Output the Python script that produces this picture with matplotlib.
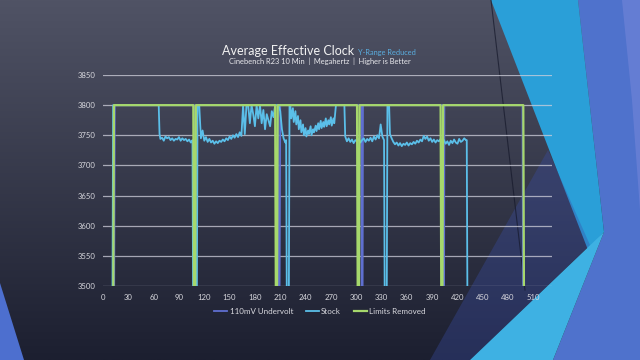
import numpy as np
import matplotlib
matplotlib.use("Agg")
import matplotlib.pyplot as plt
from matplotlib.patches import Polygon

plt.rcParams['font.family'] = ['Lato', 'DejaVu Sans']

LOW = 3400  # values below the visible range

# ---- data (seconds, MHz) ----
uv_x = [0, 13, 14, 108, 109, 110, 111, 207, 208, 209, 210, 306, 306.5, 307.5, 308, 402.5, 403, 404, 404.5, 497, 498, 532]
uv_y = [LOW, LOW, 3800, 3800, LOW, LOW, 3800, 3800, LOW, LOW, 3800, 3800, LOW, LOW, 3800, 3800, LOW, LOW, 3800, 3800, LOW, LOW]

stock_x = [0, 11, 12, 66,
           67, 68, 70, 72, 74, 76, 78, 80, 82, 84, 86, 88, 90, 92, 94, 96, 98, 100, 102, 104, 106,
           107, 111, 112, 114, 116, 118, 120, 122, 124, 126, 128, 130, 132, 134, 136, 138, 140, 142, 144,
           146, 148, 150, 152, 154, 156, 158, 160, 162, 164,
           166, 168, 170, 172, 174, 176, 178, 180, 182, 184, 186, 188, 190, 192, 194, 196, 198, 200, 202, 204,
           206, 208, 210, 212, 214, 216, 217, 218, 220, 221,
           222, 223, 225, 226, 228, 229, 231, 232, 234, 235, 237, 238, 240, 241, 243, 244, 246, 247, 249, 250,
           252, 253, 255, 256, 258, 259, 261, 262, 264, 265, 267, 268, 270, 271, 273, 274, 276, 277, 286,
           287, 289, 291, 293, 295, 297, 299, 301, 303, 305, 307, 309, 311, 313, 315, 317, 319, 321, 323, 325,
           327, 329, 331, 333, 334, 336, 337, 339,
           340, 342, 344, 346, 348, 350, 352, 354, 356, 358, 360, 362, 364, 366, 368, 370, 372, 374, 376, 378,
           380, 382, 384, 386, 388, 390, 392, 394, 396, 398, 400,
           402, 404, 406, 408, 410, 412, 414, 416, 418, 420, 422, 424, 426, 428, 430, 431, 432, 433]
stock_y = [LOW, LOW, 3800, 3800,
           3752, 3744, 3746, 3741, 3748, 3745, 3747, 3742, 3745, 3741, 3744, 3743, 3747, 3741, 3745, 3742, 3744, 3740, 3743, 3738, 3742,
           LOW, LOW, 3800, 3800, 3745, 3758, 3741, 3747, 3739, 3744, 3738, 3741, 3736, 3740, 3737, 3741, 3739, 3743, 3740,
           3745, 3742, 3748, 3744, 3750, 3746, 3752, 3747, 3755, 3749,
           3800, 3752, 3800, 3800, 3770, 3800, 3785, 3765, 3800, 3778, 3800, 3770, 3792, 3760, 3785, 3775, 3765, 3790, 3780, 3800,
           3800, 3800, 3790, 3760, 3745, 3738, 3742, LOW, LOW, 3800,
           3800, 3778, 3795, 3772, 3790, 3768, 3782, 3760, 3775, 3755, 3768, 3750, 3762, 3748, 3758, 3752, 3765, 3750, 3760, 3755,
           3766, 3757, 3770, 3760, 3774, 3762, 3772, 3764, 3778, 3765, 3775, 3768, 3780, 3766, 3778, 3770, 3800, 3800, 3800,
           3748, 3740, 3745, 3739, 3743, 3737, 3742, 3740, 3744, 3738, 3742, 3745, 3739, 3744, 3741, 3746, 3740, 3748, 3743, 3750,
           3745, 3768, 3748, 3742, LOW, LOW, 3800, 3800,
           3752, 3745, 3739, 3735, 3738, 3733, 3737, 3732, 3736, 3734, 3738, 3733, 3737, 3735, 3739, 3736, 3741, 3738, 3743, 3740,
           3749, 3744, 3748, 3741, 3745, 3739, 3743, 3738, 3742, 3740, 3744,
           3738, 3742, 3736, 3740, 3734, 3741, 3737, 3743, 3738, 3736, 3744, 3739, 3741, 3745, 3742, 3742, LOW, LOW]

lim_x = [0, 12, 13, 107, 108, 109, 110, 204, 205, 206, 207, 301, 302, 303, 304, 400, 401, 402, 403, 498, 499, 532]
lim_y = [LOW, LOW, 3800, 3800, LOW, LOW, 3800, 3800, LOW, LOW, 3800, 3800, LOW, LOW, 3800, 3800, LOW, LOW, 3800, 3800, LOW, LOW]

series_names = ["110mV Undervolt", "Stock", "Limits Removed"]
y_ticks = [3500, 3550, 3600, 3650, 3700, 3750, 3800, 3850]
x_ticks = list(range(0, 511, 30))

W, H = 640, 360
fig = plt.figure(figsize=(6.4, 3.6), dpi=100)

# ---- background ----
bg = fig.add_axes([0, 0, 1, 1])
bg.set_xlim(0, W)
bg.set_ylim(H, 0)
bg.axis('off')
top = np.array([80, 83, 101]) / 255
bot = np.array([28, 31, 48]) / 255
t = np.linspace(0, 1, 256)[:, None, None]
grad = top * (1 - t) + bot * t
grad = np.repeat(grad, 2, axis=1)
bg.imshow(grad, extent=[0, W, H, 0], aspect='auto', zorder=0)

shapes = [
    ([(578, 0), (640, 0), (640, 360), (553, 360), (604, 232)], '#4f72cc', 1.0),
    ([(622, 0), (640, 0), (640, 210), (632, 100)], '#6a80d6', 0.8),
    ([(491, 0), (578, 0), (604, 232), (588, 250)], '#2a9fd8', 1.0),
    ([(470, 360), (553, 360), (604, 232)], '#3eb1e3', 1.0),
    ([(548, 150), (590, 245), (470, 360), (430, 360)], '#3a4ea6', 0.35),
    ([(0, 283), (0, 360), (24, 360)], '#4d6fcf', 1.0),
]
for pts, col, a in shapes:
    bg.add_patch(Polygon(pts, closed=True, facecolor=col, edgecolor='none', alpha=a, zorder=1))
bg.plot([491, 525], [0, 290], color='#15182a', lw=0.8, alpha=0.7, zorder=2)

# ---- chart ----
L, R, T, B = 103, 552, 75, 286
ax = fig.add_axes([L / W, 1 - B / H, (R - L) / W, (B - T) / H])
ax.set_facecolor('none')
ax.set_xlim(0, 532)
ax.set_ylim(3500, 3850)
ax.set_yticks(y_ticks)
ax.set_xticks(x_ticks)
ax.yaxis.grid(True, color='#d0d0dc', lw=0.9, alpha=0.75)
ax.set_axisbelow(True)
for s in ax.spines.values():
    s.set_visible(False)
ax.tick_params(length=0, colors='#d8d8de', labelsize=5.6)
ax.tick_params(axis='y', pad=5)
ax.tick_params(axis='x', pad=6)

l1, = ax.plot(uv_x, uv_y, color='#5f6fd0', lw=1.3, label=series_names[0])
l2, = ax.plot(stock_x, stock_y, color='#5bbfe9', lw=1.3, label=series_names[1])
l3, = ax.plot(lim_x, lim_y, color='#a6d86c', lw=1.6, label=series_names[2])

leg = fig.legend(handles=[l1, l2, l3], loc='center', bbox_to_anchor=(0.5, 1 - 311 / H),
                 ncol=3, frameon=False, fontsize=5.8, handlelength=1.6, handletextpad=0.3,
                 columnspacing=1.6)
for txt in leg.get_texts():
    txt.set_color('#d8d8de')

# ---- titles ----
fig.canvas.draw()
r = fig.canvas.get_renderer()
t1 = fig.text(222 / W, 1 - 55 / H, "Average Effective Clock", color='#f2f2f2', fontsize=9.0,
              ha='left', va='baseline')
bb = t1.get_window_extent(renderer=r)
fig.text((bb.x1 + 4) / W, 1 - 55 / H, "Y-Range Reduced", color='#5aaee0', fontsize=5.3,
         ha='left', va='baseline')
fig.text(320 / W, 1 - 64 / H, "Cinebench R23 10 Min  |  Megahertz  |  Higher is Better",
         color='#e8e8ec', fontsize=5.4, ha='center', va='baseline')

fig.savefig("out.png", dpi=100)
